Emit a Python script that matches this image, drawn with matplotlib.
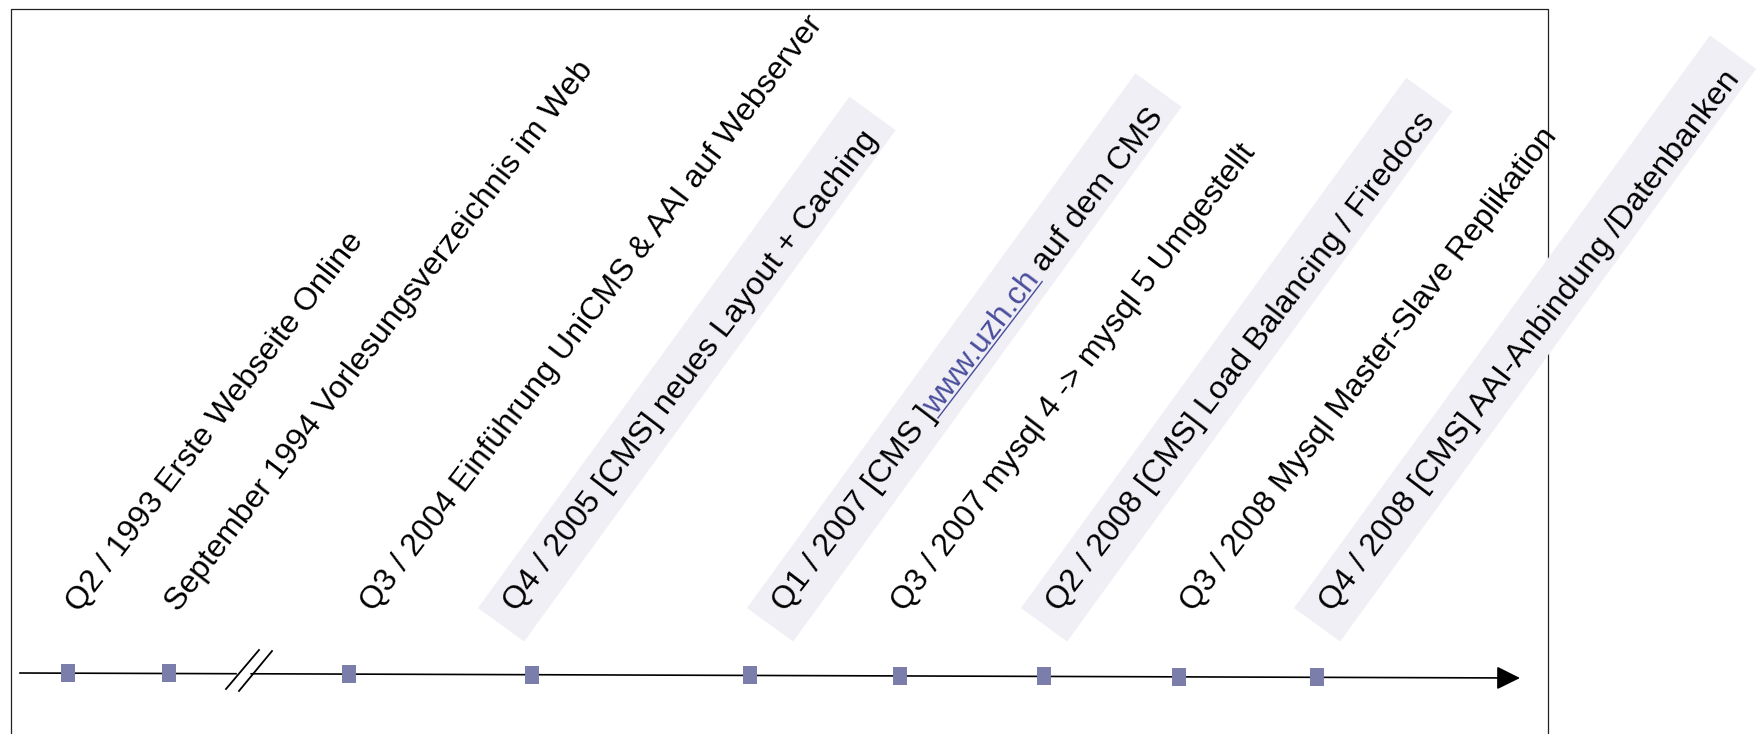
import numpy as np
import matplotlib
matplotlib.use("Agg")
import matplotlib.pyplot as plt
from matplotlib.patches import Polygon
from matplotlib.font_manager import FontProperties

# ---------------- data ----------------
event_labels = [
    "Q2 / 1993 Erste Webseite Online",
    "September 1994 Vorlesungsverzeichnis im Web",
    "Q3 / 2004 Einführung UniCMS & AAI auf Webserver",
    "Q4 / 2005 [CMS] neues Layout + Caching",
    "Q1 / 2007 [CMS ]www.uzh.ch auf dem CMS",
    "Q3 / 2007 mysql 4 -> mysql 5 Umgestellt",
    "Q2 / 2008 [CMS] Load Balancing / Firedocs",
    "Q3 / 2008 Mysql Master-Slave Replikation",
    "Q4 / 2008 [CMS] AAI-Anbindung /Datenbanken",
]
marker_pos = [67.5, 169, 349, 532, 750, 900, 1044, 1179, 1317]
label_pos = [79, 178, 373, 516, 785, 904, 1059, 1193, 1332]
highlighted = [False, False, False, True, True, False, True, False, True]
link_text = "www.uzh.ch"

# ---------------- style ----------------
W, H, DPI = 1764, 734, 100
FS = 23.1
TEXT_ANGLE = 52.6
BOX_ANGLE = 54.0
FONT = "Liberation Sans"
BOX_COLOR = "#efeff5"
MARKER_COLOR = "#7b7dab"
LINK_COLOR = "#4b4f9c"
BASE_Y = 613          # baseline start of labels (px from top)
AX_X0, AX_Y0 = 20, 673
AX_X1, AX_Y1 = 1520, 678
BREAK_L, BREAK_R = 236, 251

fig = plt.figure(figsize=(W / DPI, H / DPI), dpi=DPI)
ax = fig.add_axes([0, 0, 1, 1])
ax.set_xlim(0, W)
ax.set_ylim(H, 0)
ax.axis("off")

renderer = fig.canvas.get_renderer()
prop = FontProperties(family=FONT, size=FS)


def text_w(s):
    return renderer.get_text_width_height_descent(s, prop, ismath=False)[0]


def dirs(angle):
    a = np.deg2rad(angle)
    return np.array([np.cos(a), -np.sin(a)]), np.array([-np.sin(a), -np.cos(a)])


u, v = dirs(TEXT_ANGLE)      # text baseline / text-up directions (data, y down)
ub, vb = dirs(BOX_ANGLE)     # box long / box-up directions


def axis_y(x):
    return AX_Y0 + (np.asarray(x) - AX_X0) * (AX_Y1 - AX_Y0) / (AX_X1 - AX_X0)


# frame
ax.plot([11, 11, 1548, 1548], [H + 5, 9, 9, H + 5], color="#222222", lw=0.9, zorder=1)

# highlight boxes (slightly steeper than the text, as in the original)
BOX_OFF = np.array([-38, -5])
BOX_EXTRA, BOX_WIDTH = 36, 57
for lbl, lx, hl in zip(event_labels, label_pos, highlighted):
    if not hl:
        continue
    b0 = np.array([lx, BASE_Y]) + BOX_OFF
    L = text_w(lbl) + BOX_EXTRA
    pts = [b0, b0 + L * ub, b0 + L * ub - BOX_WIDTH * vb, b0 - BOX_WIDTH * vb]
    ax.add_patch(Polygon(pts, closed=True, facecolor=BOX_COLOR, edgecolor="none", zorder=2))

# labels
for lbl, lx in zip(event_labels, label_pos):
    p = np.array([lx, BASE_Y])
    kw = dict(rotation=TEXT_ANGLE, rotation_mode="anchor", ha="left", va="baseline",
              fontproperties=prop, zorder=4)
    if link_text in lbl:
        pre, post = lbl.split(link_text)
        link_start = text_w(pre + link_text) - text_w(link_text)
        post_s = post.lstrip()
        full = pre + link_text + post
        post_start = text_w(full) - text_w(post_s)
        link_end = link_start + text_w(link_text)
        ax.text(p[0], p[1], pre, color="black", **kw)
        q = p + link_start * u
        ax.text(q[0], q[1], link_text, color=LINK_COLOR, **kw)
        r = p + post_start * u
        ax.text(r[0], r[1], post_s, color="black", **kw)
        a = p + link_start * u - 3 * v
        b = p + link_end * u - 3 * v
        ax.plot([a[0], b[0]], [a[1], b[1]], color=LINK_COLOR, lw=1.0, zorder=4)
    else:
        ax.text(p[0], p[1], lbl, color="black", **kw)

# timeline axis with break
ax.plot([AX_X0, BREAK_L], [axis_y(AX_X0), axis_y(BREAK_L)], color="black", lw=1.2, zorder=3)
ax.annotate("", xy=(AX_X1, axis_y(AX_X1)), xytext=(BREAK_R, axis_y(BREAK_R)),
            arrowprops=dict(arrowstyle="-|>,head_length=1.45,head_width=0.72",
                            mutation_scale=10, lw=1.2, color="black",
                            shrinkA=0, shrinkB=0), zorder=3)
# break marks
for dx in (0, 13):
    ax.plot([226 + dx, 259 + dx], [689 + dx * 0.15, 650 + dx * 0.08], color="black", lw=1.3, zorder=3)

# event markers
rect = [(-7, -9), (7, -9), (7, 9), (-7, 9), (-7, -9)]
ax.plot(marker_pos, axis_y(marker_pos), linestyle="none", marker=rect,
        markersize=13.0, color=MARKER_COLOR, markeredgewidth=0, zorder=5)

fig.savefig("out.png", dpi=DPI, facecolor="white")
